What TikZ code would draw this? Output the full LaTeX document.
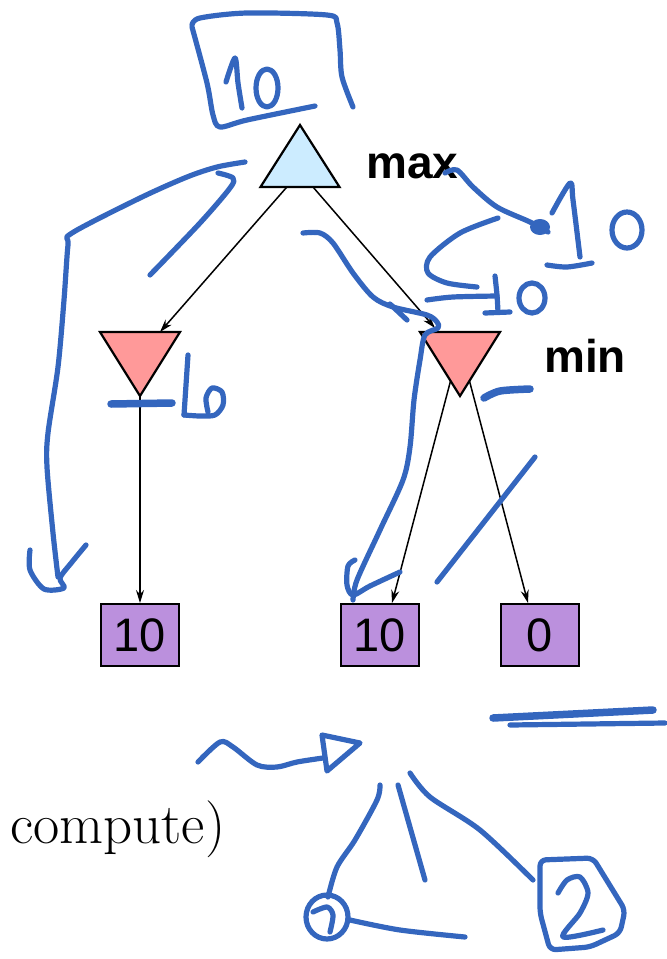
\documentclass[tikz,border=0pt]{standalone}
\usepackage{fontspec}
\newfontfamily\labelfont{Liberation Sans}
\usetikzlibrary{arrows.meta, calc}

\definecolor{maxblue}{RGB}{204,236,255}
\definecolor{minred}{RGB}{255,153,153}
\definecolor{leafpurple}{RGB}{187,144,221}
\definecolor{inkblue}{RGB}{52,102,190}

\begin{document}
\begin{tikzpicture}[x=1pt, y=-1pt]
    % Styles
    \tikzset{
        leaf/.style={rectangle, draw, line width=2pt, fill=leafpurple, minimum width=78pt, minimum height=62pt, inner sep=0pt, font=\labelfont\fontsize{47}{50}\selectfont},
        tri/.style={draw, line width=2.2pt, line join=miter},
        edge/.style={-{Stealth[length=13pt, width=8pt]}, line width=1.5pt},
        ink/.style={draw=inkblue, line width=5.2pt, line cap=round, line join=round},
        inkfat/.style={ink, line width=7.5pt},
        tag/.style={font=\labelfont\bfseries\fontsize{46}{50}\selectfont, anchor=base west, inner sep=0pt}
    }
    \useasboundingbox (0,0) rectangle (667,959);

    % --- Nodes ---

    % Tree nodes (centres of the triangles)
    \coordinate (maxc) at (300,166);
    \coordinate (minl) at (140,353);
    \coordinate (minr) at (460,353);

    % Leaves
    \node[leaf] (leafa) at (140,635) {10};
    \node[leaf] (leafb) at (380,635) {10};
    \node[leaf] (leafc) at (540,635) {0};

    % --- Connections ---
    \draw[edge] ($(maxc)+(0,6)$) -- ($(minl)+(20,-21)$);
    \draw[edge] ($(maxc)+(0,6)$) -- ($(minr)+(-25,-25)$);
    \draw[edge] ($(minl)+(0,43)$) -- (leafa.north);
    \draw[edge] ($(minr)+(0,-8)$) -- ($(leafb.north)+(12,0)$);
    \draw[edge] ($(minr)+(0,-8)$) -- ($(leafc.north)+(-12,0)$);

    % Triangles on top of the edges
    \draw[tri, fill=maxblue] ($(maxc)+(0,-41)$) -- ++(39.5,62) -- ++(-79,0) -- cycle;
    \draw[tri, fill=minred] ($(minl)+(0,43)$) -- ++(40,-64) -- ++(-80,0) -- cycle;
    \draw[tri, fill=minred] ($(minr)+(0,43)$) -- ++(40,-64) -- ++(-80,0) -- cycle;

    % Labels
    \node[tag] (maxlabel) at (366,178) {max};
    \node[tag] (minlabel) at (544,372) {min};
    \node[font=\fontsize{57}{60}\selectfont, anchor=base west, inner sep=0pt] (compute) at (10,843) {compute)};

    % --- Handwriting ---

    % box round the root value
    \draw[ink] plot[smooth] coordinates {(192,25) (200,18) (247,13) (327,15) (337,23) (340,50) (342,77) (353,107)};
    \draw[ink] plot[smooth] coordinates {(192,27) (207,83) (213,115) (220,127) (247,120) (315,106)};
    \draw[ink] plot[smooth] coordinates {(226,82) (235,58) (238,83) (242,108)};
    \draw[ink] (267,88) ellipse[x radius=11, y radius=19];

    % long arrow down the left
    \draw[ink] plot[smooth] coordinates {(245,162) (217,167) (187,177) (140,198) (72,233) (68,245) (64,300) (58,367) (48,433) (47,467) (53,533) (58,577)};
    \draw[ink] plot[smooth] coordinates {(30,550) (30,570) (44,589) (64,588) (60,578) (72,562) (86,545)};
    \draw[ink] plot[smooth] coordinates {(218,173) (233,178) (230,188) (200,223) (150,275)};

    % stroke down to the middle leaf
    \draw[ink] plot[smooth] coordinates {(303,233) (320,233) (333,243) (353,273) (373,297) (393,307) (427,315) (437,322) (438,328) (425,335) (420,360) (414,400) (410,447) (403,480) (380,530) (357,580) (353,600)};
    \draw[ink] (390,304) -- (407,320);
    \draw[ink] plot[smooth] coordinates {(355,560) (348,566) (347,585) (353,595) (370,586) (400,572)};

    % values to the right of max
    \draw[ink] plot[smooth] coordinates {(498,218) (460,233) (430,257) (428,273) (447,283) (477,287)};
    \draw[ink] plot[smooth] coordinates {(445,173) (457,170) (473,187) (497,207) (530,222) (548,232)};
    \fill[inkblue] (540,227) ellipse[x radius=10, y radius=8];
    \draw[ink] plot[smooth] coordinates {(552,213) (570,183) (573,200) (580,257)};
    \draw[ink] plot[smooth] coordinates {(547,265) (567,267) (592,263)};
    \draw[ink] (627,230) ellipse[x radius=15, y radius=18];
    \draw[ink] plot[smooth] coordinates {(427,300) (453,297) (497,296)};
    \draw[ink] plot[smooth] coordinates {(495,276) (497,295) (498,312)};
    \draw[ink] (485,313) -- (510,312);
    \draw[ink] (532,298) ellipse[x radius=13, y radius=15];

    % marks beside the min nodes
    \draw[inkfat] plot[smooth] coordinates {(484,398) (500,391) (530,389)};
    \draw[inkfat] (111,404) -- (172,403);
    \draw[ink] plot[smooth] coordinates {(188,355) (186,385) (184,415)};
    \draw[ink] plot[smooth] coordinates {(184,415) (200,416) (215,415) (223,405) (222,392) (212,388) (206,398) (208,412)};
    \draw[ink] (535,457) -- (437,582);

    % bottom sketch
    \draw[ink] plot[smooth] coordinates {(198,762) (220,742) (233,747) (257,765) (277,767) (297,762) (323,758)};
    \draw[ink] (322,735) -- (360,743) -- (327,771) -- cycle;
    \draw[inkfat] (493,718) -- (653,710);
    \draw[ink] (510,725) -- (665,723);
    \draw[ink] plot[smooth] coordinates {(380,785) (377,800) (355,840) (337,867) (328,897)};
    \draw[ink] (398,785) -- (425,880);
    \draw[ink] plot[smooth] coordinates {(410,773) (430,797) (480,830) (533,880)};
    \draw[ink] (327,917) ellipse[x radius=21, y radius=22];
    \draw[ink] plot[smooth] coordinates {(313,912) (327,907) (333,915) (330,932)};
    \draw[ink] plot[smooth] coordinates {(350,920) (400,930) (465,937)};
    \draw[ink, rounded corners=6pt] (540,860) -- (593,858) -- (625,910) -- (620,933) -- (590,947) -- (550,950) -- (540,913) -- cycle;
    \draw[ink] plot[smooth] coordinates {(558,893) (567,880) (580,877) (588,893) (580,913) (563,937) (603,930)};

\end{tikzpicture}
\end{document}
